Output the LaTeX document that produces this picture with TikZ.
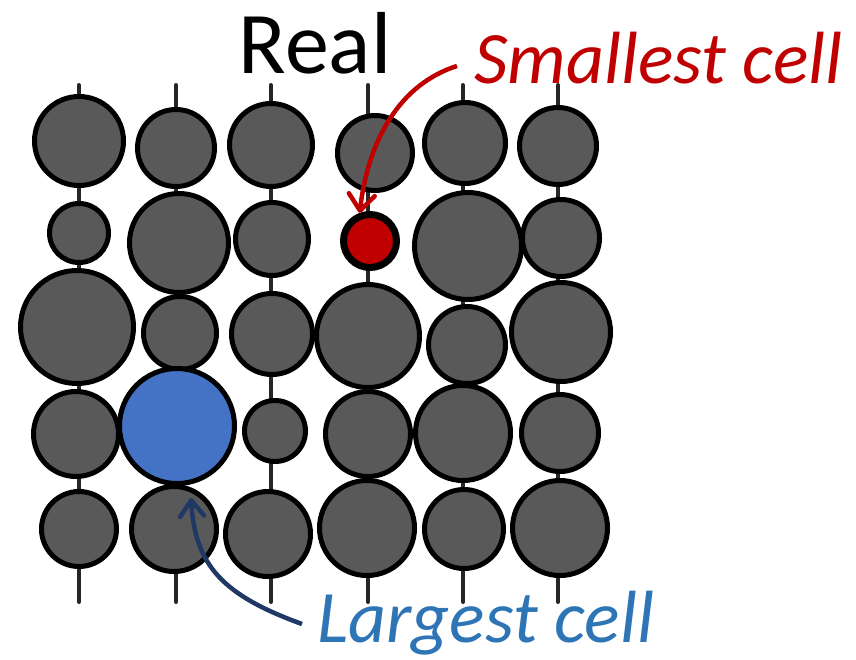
\documentclass[tikz,border=0pt]{standalone}
\usepackage{fontspec}
\setmainfont{Carlito}
\usetikzlibrary{arrows.meta}

\definecolor{cellgray}{HTML}{595959}
\definecolor{stemgray}{HTML}{262626}
\definecolor{cellblue}{HTML}{4472C4}
\definecolor{cellred}{HTML}{C00000}
\definecolor{textblue}{HTML}{2E75B6}
\definecolor{arrowblue}{HTML}{1F3864}

\begin{document}
\begin{tikzpicture}[
    x=1pt, y=-1pt,
    cell/.style={circle, draw=black, line width=5pt, fill=cellgray, inner sep=0pt},
    bigcell/.style={cell, fill=cellblue},
    smallcell/.style={cell, fill=cellred, line width=7pt},
    stemline/.style={draw=stemgray, line width=4pt, line cap=round},
    lbl/.style={inner sep=0pt, font=\fontsize{74}{74}\selectfont\itshape},
    redarrow/.style={draw=cellred, line width=4.5pt, -{Straight Barb[length=16pt, width=26pt, round]}},
    bluearrow/.style={draw=arrowblue, line width=4.5pt, -{Straight Barb[length=16pt, width=24pt, round]}}
  ]
    \useasboundingbox (0,0) rectangle (856,659);

    % Stems
    \coordinate (t1) at (79,85);  \coordinate (b1) at (79,602);
    \coordinate (t2) at (176,85); \coordinate (b2) at (176,602);
    \coordinate (t3) at (271,85); \coordinate (b3) at (271,602);
    \coordinate (t4) at (368,85); \coordinate (b4) at (368,602);
    \coordinate (t5) at (463,85); \coordinate (b5) at (463,602);
    \coordinate (t6) at (558,85); \coordinate (b6) at (558,602);
    \draw[stemline] (t1) -- (b1);
    \draw[stemline] (t2) -- (b2);
    \draw[stemline] (t3) -- (b3);
    \draw[stemline] (t4) -- (b4);
    \draw[stemline] (t5) -- (b5);
    \draw[stemline] (t6) -- (b6);

    % Row 1
    \node[cell, minimum size=89] (r1c1) at (79,141) {};
    \node[cell, minimum size=77] (r1c2) at (176,148) {};
    \node[cell, minimum size=83] (r1c3) at (271,145) {};
    \node[cell, minimum size=75] (r1c4) at (375,153) {};
    \node[cell, minimum size=81] (r1c5) at (465,143) {};
    \node[cell, minimum size=77] (r1c6) at (558,146) {};

    % Row 2
    \node[cell, minimum size=59] (r2c1) at (79,233) {};
    \node[cell, minimum size=99] (r2c2) at (179,243) {};
    \node[cell, minimum size=73] (r2c3) at (272,239) {};
    \node[smallcell, minimum size=53] (r2c4) at (370,241) {};
    \node[cell, minimum size=107] (r2c5) at (468,246) {};
    \node[cell, minimum size=77] (r2c6) at (561,238) {};

    % Row 3
    \node[cell, minimum size=113] (r3c1) at (77,327) {};
    \node[cell, minimum size=73] (r3c2) at (180,333) {};
    \node[cell, minimum size=81] (r3c3) at (272,334) {};
    \node[cell, minimum size=103] (r3c4) at (368,336) {};
    \node[cell, minimum size=77] (r3c5) at (467,345) {};
    \node[cell, minimum size=99] (r3c6) at (561,332) {};

    % Row 4
    \node[cell, minimum size=85] (r4c1) at (76,434) {};
    \node[bigcell, minimum size=115] (r4c2) at (177,426) {};
    \node[cell, minimum size=61] (r4c3) at (275,431) {};
    \node[cell, minimum size=85] (r4c4) at (368,434) {};
    \node[cell, minimum size=95] (r4c5) at (463,433) {};
    \node[cell, minimum size=77] (r4c6) at (560,433) {};

    % Row 5
    \node[cell, minimum size=75] (r5c1) at (79,529) {};
    \node[cell, minimum size=85] (r5c2) at (174,529) {};
    \node[cell, minimum size=85] (r5c3) at (268,534) {};
    \node[cell, minimum size=95] (r5c4) at (367,528) {};
    \node[cell, minimum size=79] (r5c5) at (464,529) {};
    \node[cell, minimum size=95] (r5c6) at (560,528) {};

    % Labels
    \node[inner sep=0pt, anchor=base, font=\fontsize{88}{88}\selectfont] (title) at (315,73) {Real};
    \node[lbl, text=cellred, anchor=base west] (smallest) at (474,83) {Smallest cell};
    \node[lbl, text=textblue, anchor=base west] (largest) at (317,642) {Largest cell};

    % Arrows
    \coordinate (rtail) at (457,66);
    \coordinate (btail) at (302,624);
    \coordinate (btip) at (191,498);
    \draw[redarrow] (rtail) .. controls (400,84) and (368,140) .. (r2c4.110);
    \draw[bluearrow] (btail) .. controls (222,595) and (195,565) .. (btip);
  \end{tikzpicture}
\end{document}
